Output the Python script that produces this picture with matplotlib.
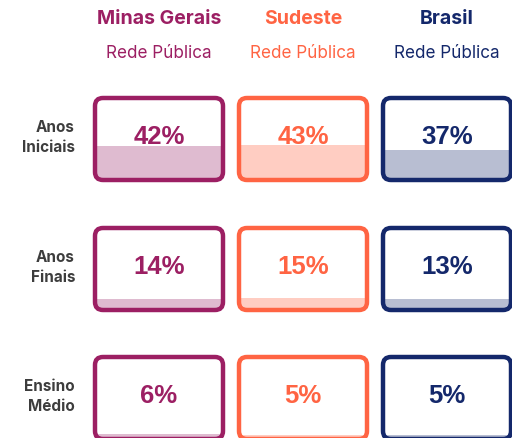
import matplotlib.pyplot as plt
from matplotlib.patches import FancyBboxPatch, Rectangle

# --- Data ---
regions = ['Minas Gerais', 'Sudeste', 'Brasil']
subtitle = 'Rede Pública'
stages = ['Anos\nIniciais', 'Anos\nFinais', 'Ensino\nMédio']
# percent per stage, one list per region
values = {
    'Minas Gerais': [42, 14, 6],
    'Sudeste': [43, 15, 5],
    'Brasil': [37, 13, 5],
}

edge_colors = ['#9c1f63', '#ff6443', '#14286b']
fill_colors = ['#dfbbd0', '#ffcdc2', '#b8bed2']
label_color = '#3d3d3d'

# --- Layout (pixels) ---
W, H = 512, 439
col_left = [95, 239, 383]
box_w = 128
row_top = [99, 229, 358]
box_h = 82

fig = plt.figure(figsize=(W / 100, H / 100), dpi=100)
ax = fig.add_axes([0, 0, 1, 1])
ax.set_xlim(0, W)
ax.set_ylim(H, 0)
ax.axis('off')

font = ['Inter', 'DejaVu Sans']

for j, region in enumerate(regions):
    cx = col_left[j] + box_w / 2
    ax.text(cx, 19, region, ha='center', va='center', fontsize=14,
            fontweight='bold', color=edge_colors[j], family=font)
    ax.text(cx, 53, subtitle, ha='center', va='center', fontsize=12.3,
            color=edge_colors[j], family=font)

    for i, v in enumerate(values[region]):
        x0, y0 = col_left[j], row_top[i]
        box = FancyBboxPatch((x0, y0), box_w, box_h,
                             boxstyle='round,pad=0,rounding_size=8',
                             facecolor='white', edgecolor='none', zorder=1)
        ax.add_patch(box)
        fill_h = box_h * v / 100
        fill = Rectangle((x0, y0 + box_h - fill_h), box_w, fill_h,
                         facecolor=fill_colors[j], edgecolor='none', zorder=2)
        ax.add_patch(fill)
        fill.set_clip_path(box)
        outline = FancyBboxPatch((x0, y0), box_w, box_h,
                                 boxstyle='round,pad=0,rounding_size=8',
                                 facecolor='none', edgecolor=edge_colors[j],
                                 linewidth=3.2, zorder=3)
        ax.add_patch(outline)
        ax.text(x0 + box_w / 2, y0 + box_h * 0.46, f'{v}%', ha='center',
                va='center', fontsize=18.5, fontweight='bold',
                color=edge_colors[j], family=['Liberation Sans', 'DejaVu Sans'],
                zorder=4)

for i, stage in enumerate(stages):
    ax.text(75, row_top[i] + box_h * 0.47, stage, ha='right', va='center',
            fontsize=11, fontweight='bold', color=label_color, family=font,
            linespacing=1.35)

fig.savefig('out.png', dpi=100)
